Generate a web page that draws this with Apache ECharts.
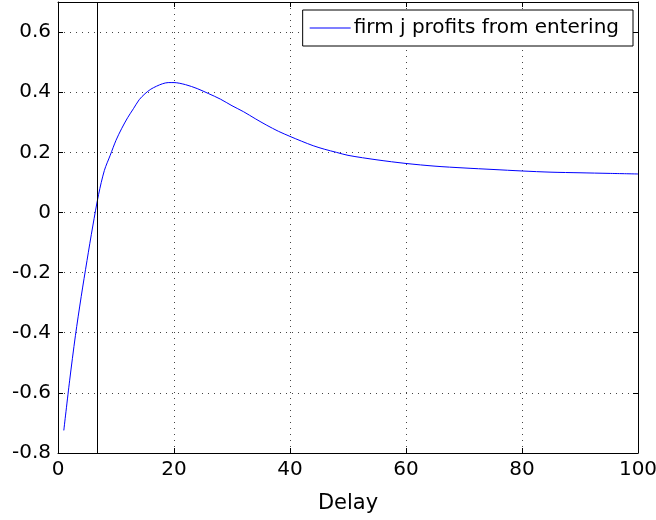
<!DOCTYPE html>
<html>
<head>
<meta charset="utf-8">
<script src="https://cdn.jsdelivr.net/npm/echarts@6/dist/echarts.min.js"></script>
<style>
  html, body { margin: 0; padding: 0; background: #fff; }
  #main { width: 656px; height: 520px; }
</style>
</head>
<body>
<div id="main"></div>
<script>
// delay values and profit
var delay = [1, 2, 3, 4, 5, 6, 7, 8, 9, 10, 11, 12, 13, 14, 15, 16, 17, 18, 19, 20,
  22, 24, 26, 28, 30, 32, 34, 36, 38, 40, 42, 44, 46, 48, 50, 55, 60, 65, 70, 75, 80, 85, 90, 95, 100];
var profits = [-0.725, -0.56, -0.41, -0.28, -0.16, -0.045, 0.06, 0.14, 0.19, 0.24, 0.28, 0.315, 0.345, 0.375, 0.395, 0.41, 0.42, 0.428, 0.432, 0.432,
  0.425, 0.412, 0.395, 0.377, 0.355, 0.335, 0.312, 0.29, 0.27, 0.253, 0.237, 0.222, 0.21, 0.2, 0.19, 0.175, 0.163, 0.154, 0.148, 0.143, 0.138, 0.134, 0.132, 0.13, 0.128];
var markX = 6.7;
var xTicks = [0, 20, 40, 60, 80, 100];
var yTicks = [-0.8, -0.6, -0.4, -0.2, 0, 0.2, 0.4, 0.6];

var font = 'DejaVu Sans, sans-serif';
var gridLine = { show: true, lineStyle: { color: '#444', type: [1, 5], width: 1 } };
var frame = { show: true, onZero: false, lineStyle: { color: '#000', width: 1 } };
var inTick = { show: true, inside: true, length: 5, lineStyle: { color: '#000' } };

var option = {
  animation: false,
  backgroundColor: '#fff',
  grid: { left: 58, right: 18, top: 2, bottom: 67, outerBoundsMode: 'none', containLabel: false },
  legend: {
    data: ['firm j profits from entering'],
    right: 23,
    top: 10,
    backgroundColor: '#fff',
    borderColor: '#000',
    borderWidth: 1,
    borderRadius: 0,
    padding: [8, 14, 8, 7],
    icon: 'rect',
    itemWidth: 41,
    itemHeight: 1,
    itemStyle: { color: '#0000ff' },
    textStyle: { fontFamily: font, fontSize: 20, color: '#000', padding: [0, 0, 0, -2] }
  },
  xAxis: [{
    type: 'value', min: 0, max: 100, interval: 20,
    name: 'Delay', nameLocation: 'middle', nameGap: 40,
    nameTextStyle: { fontFamily: font, fontSize: 21, color: '#000' },
    axisLine: frame, axisTick: inTick, splitLine: gridLine,
    axisLabel: { fontFamily: font, fontSize: 20, color: '#000', margin: 7,
      formatter: function (v) { return xTicks.indexOf(v) >= 0 ? String(v) : ''; } }
  }, {
    type: 'value', min: 0, max: 100, interval: 20, position: 'top',
    axisLine: frame, axisTick: inTick, splitLine: { show: false }, axisLabel: { show: false }
  }],
  yAxis: [{
    type: 'value', min: -0.8, max: 0.7, interval: 0.2,
    axisLine: frame, axisTick: inTick, splitLine: gridLine,
    axisLabel: { fontFamily: font, fontSize: 20, color: '#000', margin: 7,
      formatter: function (v) {
        var r = Math.round(v * 10) / 10;
        return yTicks.indexOf(r) >= 0 ? String(r) : '';
      } }
  }, {
    type: 'value', min: -0.8, max: 0.7, interval: 0.2, position: 'right',
    axisLine: frame, axisTick: inTick, splitLine: { show: false }, axisLabel: { show: false }
  }],
  series: [{
    name: 'firm j profits from entering',
    type: 'line',
    showSymbol: false,
    symbol: 'none',
    smooth: 0.3,
    color: '#0000ff',
    lineStyle: { color: '#0000ff', width: 1 },
    data: delay.map(function (d, i) { return [d, profits[i]]; }),
    markLine: {
      silent: true,
      symbol: ['none', 'none'],
      label: { show: false },
      lineStyle: { color: '#000', type: 'solid', width: 1 },
      data: [{ xAxis: markX }]
    }
  }]
};

var chart = echarts.init(document.getElementById('main'));
chart.setOption(option);
</script>
</body>
</html>
